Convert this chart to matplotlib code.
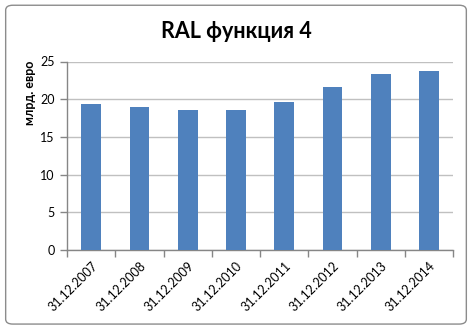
import numpy as np
import matplotlib.pyplot as plt
from matplotlib.patches import FancyBboxPatch

plt.rcParams['font.family'] = ['Lato', 'DejaVu Sans']

dates = ['31.12.2007', '31.12.2008', '31.12.2009', '31.12.2010',
         '31.12.2011', '31.12.2012', '31.12.2013', '31.12.2014']
values = [19.4, 19.0, 18.6, 18.5, 19.6, 21.6, 23.4, 23.8]
y_ticks = [0, 5, 10, 15, 20, 25]

fig = plt.figure(figsize=(4.72, 3.28), dpi=100)
ax = fig.add_axes([0.142, 0.238, 0.818, 0.5745])

# outer rounded frame like the spreadsheet chart area
frame = FancyBboxPatch((0.012, 0.012), 0.976, 0.972, boxstyle='round,pad=0,rounding_size=0.015',
                       transform=fig.transFigure, facecolor='none', edgecolor='#8c8c8c', lw=1.0)
fig.patches.append(frame)

x = np.arange(len(dates))
ax.bar(x, values, width=0.41, color='#4F81BD', zorder=3)

ax.set_xlim(-0.5, len(dates) - 0.5)
ax.set_ylim(0, 25)
ax.set_yticks(y_ticks)
ax.yaxis.grid(True, color='#c0c0c0', lw=1.0, zorder=0)

ax.set_xticks(x)
ax.set_xticklabels(dates, rotation=45, ha='right', rotation_mode='anchor', fontsize=9)
ax.set_xticks(np.arange(len(dates) + 1) - 0.5, minor=True)
ax.tick_params(axis='x', which='major', length=0, pad=7)
ax.tick_params(axis='x', which='minor', length=5, color='#868686', width=1)
ax.tick_params(axis='y', length=5, color='#868686', width=1, labelsize=9, pad=4)

for s in ['top', 'right']:
    ax.spines[s].set_visible(False)
for s in ['left', 'bottom']:
    ax.spines[s].set_color('#868686')
    ax.spines[s].set_linewidth(1)

fig.text(0.5, 0.905, 'RAL функция 4', ha='center', va='center', fontsize=15.5, fontweight='bold')
fig.text(0.064, 0.815, 'млрд. евро', rotation=90, ha='center', va='top', fontsize=9, fontweight='bold')

fig.savefig('out.png', dpi=100)
